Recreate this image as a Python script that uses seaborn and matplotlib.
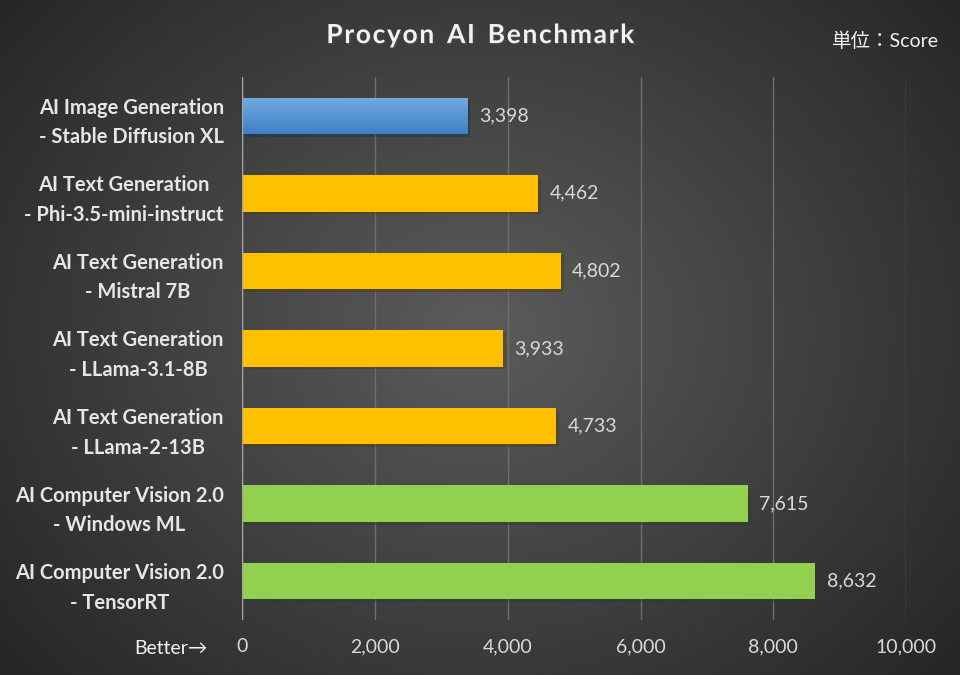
import numpy as np
import pandas as pd
import seaborn as sns
import matplotlib
matplotlib.use("Agg")
from matplotlib import pyplot as plt
import matplotlib.patheffects as pe

labels = ["AI Image Generation\n- Stable Diffusion XL",
          "AI Text Generation\n- Phi-3.5-mini-instruct",
          "AI Text Generation\n- Mistral 7B",
          "AI Text Generation\n- LLama-3.1-8B",
          "AI Text Generation\n- LLama-2-13B",
          "AI Computer Vision 2.0\n- Windows ML",
          "AI Computer Vision 2.0\n- TensorRT"]
scores = [3398, 4462, 4802, 3933, 4733, 7615, 8632]
colors = ["#5b9bd5", "#ffc000", "#ffc000", "#ffc000", "#ffc000", "#92d050", "#92d050"]
xticks = [0, 2000, 4000, 6000, 8000, 10000]
title = "Procyon AI Benchmark"

df = pd.DataFrame({"label": labels, "score": scores})

sns.set_theme(style="dark")
plt.rcParams['font.family'] = ['Lato', 'Noto Sans CJK JP', 'DejaVu Sans']

fig = plt.figure(figsize=(9.6, 6.75), dpi=100)

# radial background
bg = fig.add_axes([0, 0, 1, 1])
yy, xx = np.mgrid[0:675, 0:960]
r = np.sqrt(((xx - 480) / 620.0) ** 2 + ((yy - 330) / 520.0) ** 2)
r = np.clip(r, 0, 1)
shade = 0.36 - 0.21 * r
bg.imshow(np.dstack([shade, shade, shade]), aspect="auto", extent=[0, 1, 0, 1])
bg.set_axis_off()

ax = fig.add_axes([0.252, 0.0815, 0.692, 0.8045])
ax.patch.set_alpha(0)
sns.barplot(data=df, y="label", x="score", hue="label", palette=colors,
            legend=False, width=0.47, ax=ax, saturation=1, zorder=3,
            edgecolor="none", linewidth=0)

for p in ax.patches:
    p.set_path_effects([pe.SimplePatchShadow(offset=(2, -2), alpha=0.4), pe.Normal()])

# gradient on the blue bar
bar = ax.patches[0]
x0, y0 = bar.get_x(), bar.get_y()
w, h = bar.get_width(), bar.get_height()
grad = np.linspace(0, 1, 50).reshape(-1, 1)
cmap = matplotlib.colors.LinearSegmentedColormap.from_list("b", ["#72aae0", "#3f80c8"])
im = ax.imshow(grad, cmap=cmap, aspect="auto", extent=[x0, x0 + w, y0 + h, y0], zorder=4)
im.set_clip_path(bar)

for i, v in enumerate(scores):
    ax.text(v + 170, i, f"{v:,}", va="center", ha="left", color="#d9d9d9", fontsize=14)

ax.set_xlim(0, 10000)
ax.set_ylim(6.5, -0.5)
ax.set_aspect("auto")
ax.set_xticks(xticks)
ax.set_xticklabels([f"{t:,}" for t in xticks], color="#d9d9d9", fontsize=14)
ax.tick_params(axis="x", pad=13, length=0)
ax.tick_params(axis="y", pad=13, length=0)
for t in ax.get_yticklabels():
    t.set_color("#e6e6e6")
    t.set_fontsize(14.5)
    t.set_fontweight("bold")
    t.set_ha("right")
    t.set_multialignment("center")
    t.set_linespacing(1.6)
ax.set_xlabel("")
ax.set_ylabel("")
ax.grid(axis="x", color="#6e6e6e", linewidth=1, zorder=0)
ax.grid(axis="y", visible=False)
for s in ax.spines.values():
    s.set_visible(False)
ax.axvline(0, color="#a6a6a6", linewidth=1, zorder=5)

# widen the title with hair spaces between letters
spaced = "  ".join("\u200a".join(word) for word in title.split(" "))
fig.text(0.5, 0.948, spaced, ha="center", va="center", color="#f2f2f2",
         fontsize=19, fontweight="bold",
         path_effects=[pe.withSimplePatchShadow(offset=(1.5, -1.5), alpha=0.6)])
fig.text(0.978, 0.94, "単位：Score", ha="right", va="center", color="#f2f2f2", fontsize=14)
fig.text(0.216, 0.04, "Better→", ha="right", va="center", color="#f2f2f2", fontsize=14)

plt.savefig("out.png", dpi=100)
